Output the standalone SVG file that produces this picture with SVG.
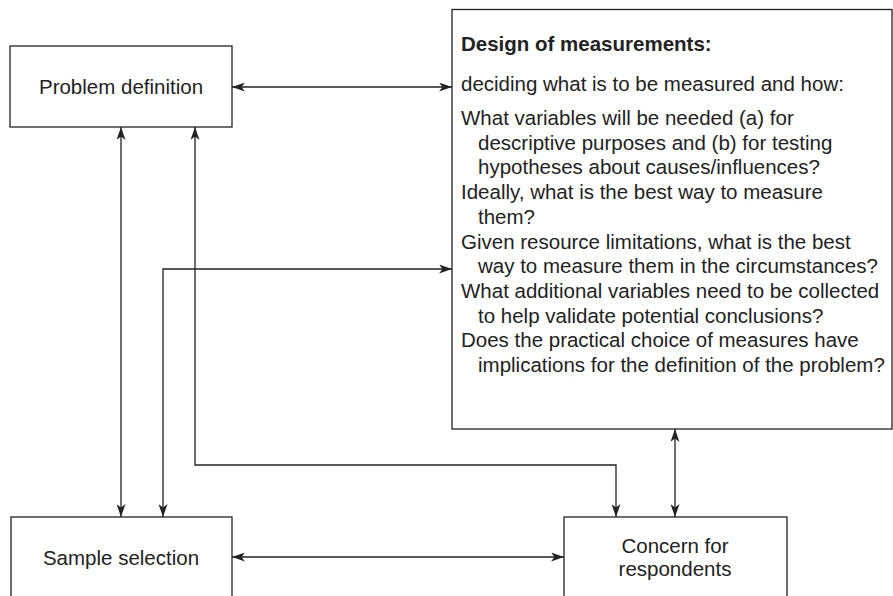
<svg xmlns="http://www.w3.org/2000/svg" width="893" height="596" viewBox="0 0 893 596">
  <style>
    .box { fill: #fff; stroke: #222; stroke-width: 1.3; }
    .t { font-family: "Liberation Sans", Arial, Helvetica, sans-serif; font-size: 20.5px; fill: #222; }
    .b { font-weight: bold; }
    .c { text-anchor: middle; }
    .con { fill: none; stroke: #222; stroke-width: 1.3; marker-start: url(#ah); marker-end: url(#ah); }
  </style>
  <defs>
    <marker id="ah" viewBox="0 0 13 9" refX="13" refY="4.5" markerWidth="13" markerHeight="9" markerUnits="userSpaceOnUse" orient="auto-start-reverse">
      <path d="M0,0 L13,4.5 L0,9 L3.5,4.5 z" fill="#222"/>
    </marker>
  </defs>
  <rect width="893" height="596" fill="#fff"/>

  <g id="connectors">
    <path class="con" d="M232,87 H452"/>
    <path class="con" d="M121,127 V517"/>
    <path class="con" d="M195,127 V465 H616 V517"/>
    <path class="con" d="M452,269 H163 V517"/>
    <path class="con" d="M232,557 H564"/>
    <path class="con" d="M675,429 V517"/>
  </g>

  <g id="problem-definition">
    <rect class="box" x="10" y="46" width="222" height="81"/>
    <text class="t c" x="121" y="94">Problem definition</text>
  </g>

  <g id="design-of-measurements">
    <rect class="box" x="452" y="9.5" width="440" height="419.5"/>
    <text class="t b" x="461" y="51">Design of measurements:</text>
    <text class="t" x="461" y="91">deciding what is to be measured and how:</text>
    <text class="t" x="461" y="125">What variables will be needed (a) for</text>
    <text class="t" x="478" y="149.7">descriptive purposes and (b) for testing</text>
    <text class="t" x="478" y="174.4">hypotheses about causes/influences?</text>
    <text class="t" x="461" y="199.1">Ideally, what is the best way to measure</text>
    <text class="t" x="478" y="223.8">them?</text>
    <text class="t" x="461" y="248.5">Given resource limitations, what is the best</text>
    <text class="t" x="478" y="273.2">way to measure them in the circumstances?</text>
    <text class="t" x="461" y="297.9">What additional variables need to be collected</text>
    <text class="t" x="478" y="322.6">to help validate potential conclusions?</text>
    <text class="t" x="461" y="347.3">Does the practical choice of measures have</text>
    <text class="t" x="478" y="372">implications for the definition of the problem?</text>
  </g>

  <g id="sample-selection">
    <rect class="box" x="11" y="517" width="221" height="100"/>
    <text class="t c" x="121" y="565">Sample selection</text>
  </g>

  <g id="concern-for-respondents">
    <rect class="box" x="564" y="517" width="223" height="100"/>
    <text class="t c" x="675" y="553">Concern for</text>
    <text class="t c" x="675" y="576">respondents</text>
  </g>
</svg>
